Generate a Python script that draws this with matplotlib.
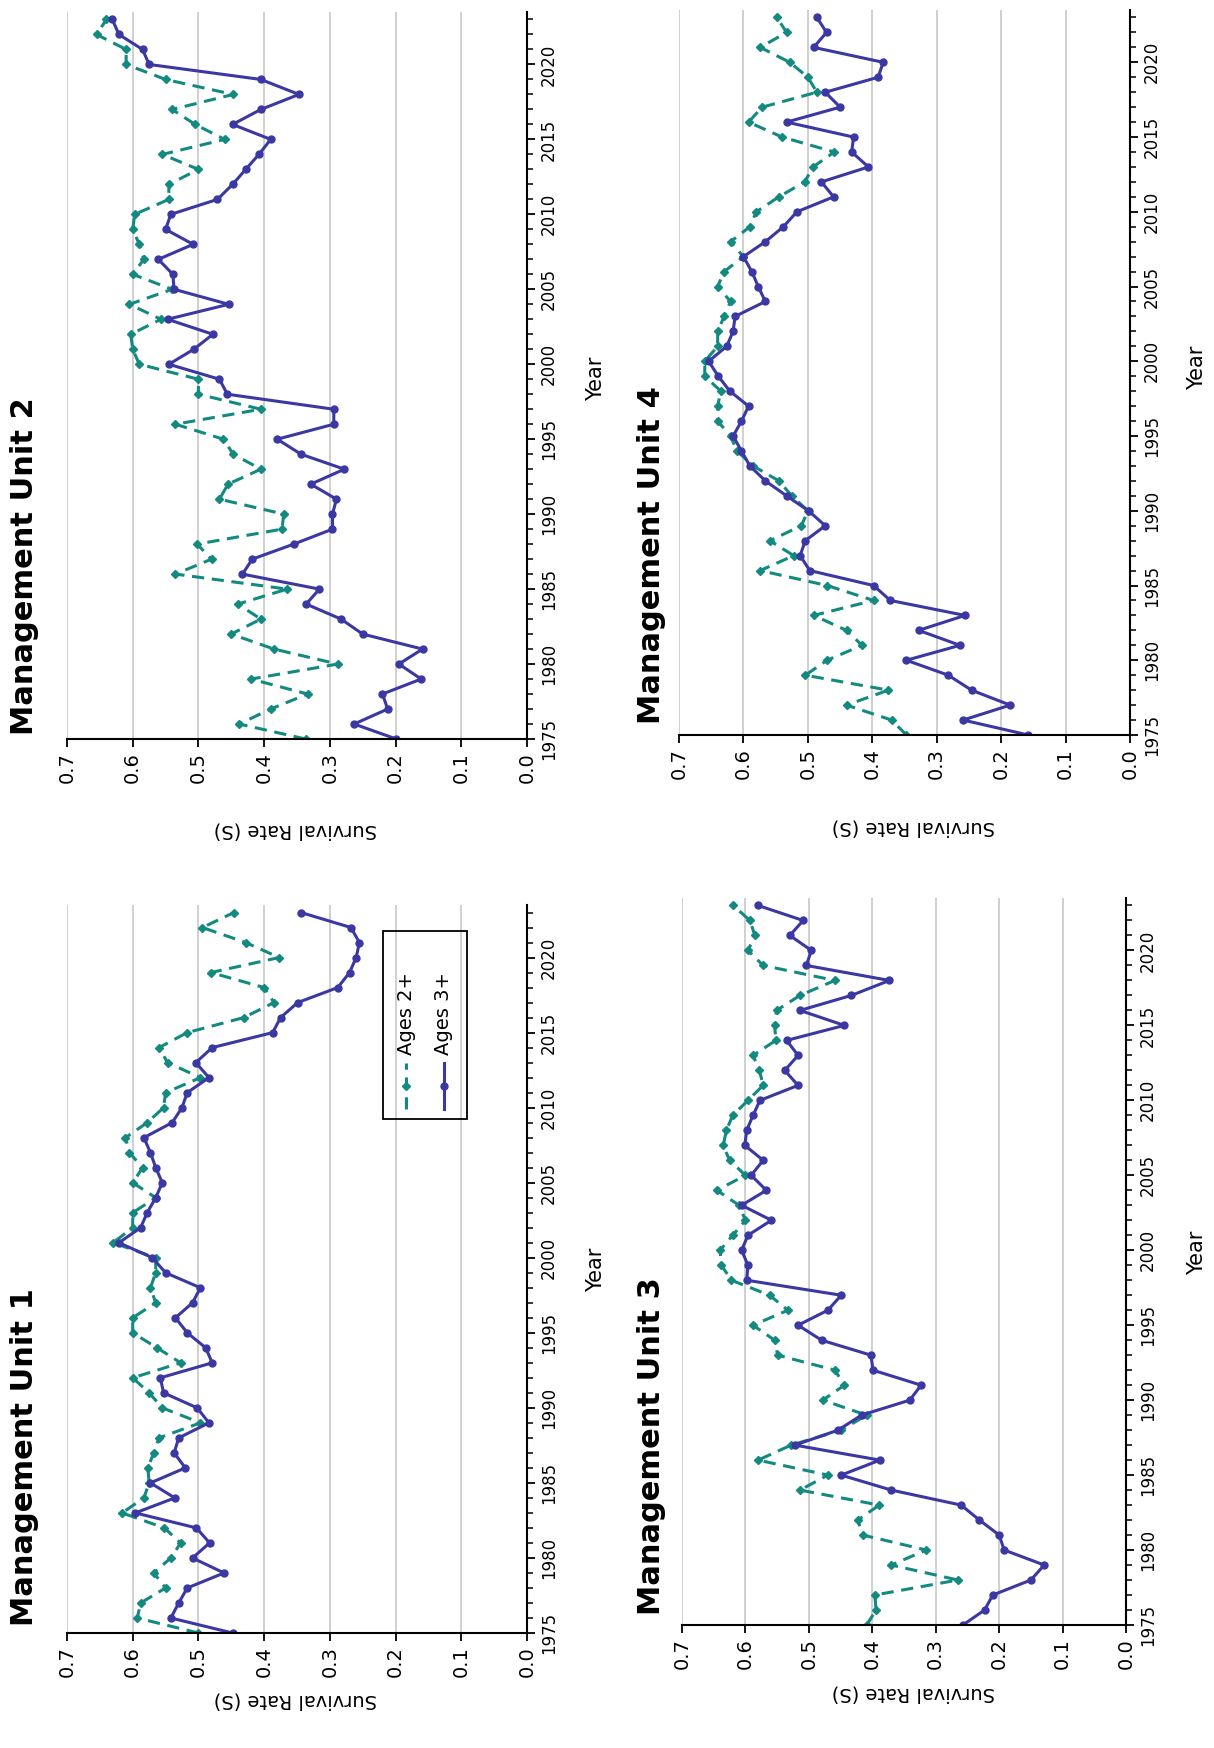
import numpy as np
import matplotlib
matplotlib.use("Agg")
import matplotlib.pyplot as plt
from matplotlib.lines import Line2D
from matplotlib.patches import Rectangle

years = list(range(1975, 2024))

mu1_age2 = [.50, .593, .588, .55, .568, .542, .527, .552, .616, .583,
            .575, .577, .568, .56, .497, .555, .575, .60, .527, .563,
            .60, .60, .565, .573, .565, .565, .63, .60, .60, .565,
            .60, .585, .605, .611, .578, .553, .55, .497, .547, .56,
            .517, .431, .385, .40, .481, .377, .428, .494, .446]
mu1_age3 = [.448, .542, .53, .517, .461, .509, .483, .503, .596, .536,
            .573, .52, .537, .53, .484, .502, .553, .558, .479, .489,
            .517, .535, .509, .497, .55, .57, .621, .588, .578, .565,
            .555, .565, .573, .583, .54, .525, .517, .484, .504, .479,
            .387, .375, .349, .288, .27, .26, .255, .268, .344]

mu2_age2 = [.337, .438, .39, .334, .42, .288, .385, .45, .405, .44,
            .365, .535, .48, .502, .373, .37, .468, .455, .405, .447,
            .462, .535, .405, .50, .50, .59, .60, .603, .557, .605,
            .54, .60, .583, .59, .60, .597, .545, .545, .50, .555,
            .46, .505, .54, .447, .55, .61, .61, .655, .64]
mu2_age3 = [.199, .263, .212, .22, .161, .195, .159, .25, .283, .336,
            .316, .433, .418, .355, .296, .296, .29, .329, .278, .344,
            .38, .294, .294, .456, .468, .545, .507, .478, .547, .454,
            .537, .539, .561, .508, .55, .542, .471, .448, .428, .408,
            .39, .448, .405, .347, .405, .575, .585, .621, .631]

mu3_age2 = [.409, .394, .396, .265, .37, .315, .415, .423, .389, .514,
            .47, .58, .528, .449, .409, .478, .444, .459, .549, .554,
            .588, .533, .562, .622, .638, .64, .62, .60, .61, .645,
            .60, .625, .635, .63, .62, .596, .572, .578, .588, .552,
            .554, .551, .514, .459, .572, .596, .585, .593, .619]
mu3_age3 = [.257, .223, .21, .15, .129, .192, .20, .231, .26, .37,
            .449, .388, .522, .454, .417, .341, .323, .399, .402, .48,
            .517, .47, .449, .598, .596, .606, .596, .559, .606, .567,
            .591, .572, .601, .598, .588, .577, .517, .538, .517, .535,
            .444, .514, .433, .373, .504, .496, .53, .509, .58]

mu4_age2 = [.347, .37, .44, .375, .504, .47, .416, .44, .491, .398,
            .47, .574, .522, .559, .51, .50, .525, .545, .585, .61,
            .62, .64, .64, .635, .66, .66, .64, .64, .63, .62,
            .64, .63, .60, .62, .59, .58, .545, .505, .492, .459,
            .54, .592, .571, .486, .50, .528, .574, .533, .548]
mu4_age3 = [.158, .259, .186, .246, .282, .347, .264, .328, .256, .372,
            .398, .497, .512, .504, .473, .499, .533, .566, .59, .603,
            .616, .603, .592, .621, .639, .654, .626, .616, .613, .566,
            .577, .587, .60, .566, .538, .517, .46, .479, .406, .432,
            .429, .533, .45, .473, .391, .383, .491, .471, .486]

titles = ["Management Unit 1", "Management Unit 2", "Management Unit 3", "Management Unit 4"]
series = [(mu1_age2, mu1_age3), (mu2_age2, mu2_age3), (mu3_age2, mu3_age3), (mu4_age2, mu4_age3)]

TEAL = "#138a80"
PURPLE = "#3b37a3"
W, H = 1214, 1748

# pixel boxes: (x at 0.7, x at 0.0, y at 1975, y at top)
boxes = [(67, 527, 1633, 905), (67, 527, 739, 12), (682, 1126, 1625, 898), (679, 1130, 735, 10)]
title_pos = [(25, 1626), (25, 735), (652, 1615), (652, 724)]
ylab_pos = [(295, 1700), (295, 830), (913, 1693), (913, 827)]
xlab_pos = [(596, 1270), (596, 379), (1197, 1253), (1197, 368)]

fig = plt.figure(figsize=(W / 100, H / 100), dpi=100)

for i in range(4):
    x0, x1, yb, yt = boxes[i]
    ax = fig.add_axes([x0 / W, 1 - yb / H, (x1 - x0) / W, (yb - yt) / H])
    a2, a3 = series[i]
    ax.plot(a2, years, color=TEAL, ls=(0, (4, 2.5)), lw=2.2, marker="D", ms=4)
    ax.plot(a3, years, color=PURPLE, ls="-", lw=2.2, marker="o", ms=5)
    ax.set_xlim(0.7, 0)
    ax.set_ylim(1975, 2023.5)
    for s in ["left", "top"]:
        ax.spines[s].set_visible(False)
    for s in ["right", "bottom"]:
        ax.spines[s].set_linewidth(1.5)
    ax.yaxis.tick_right()
    ax.set_yticks(range(1975, 2021, 5))
    ax.set_yticks(range(1975, 2024), minor=True)
    ax.set_yticklabels([str(y) for y in range(1975, 2021, 5)], rotation=90, va="center", fontsize=12)
    ax.set_xticks(np.arange(0, 0.71, 0.1))
    ax.set_xticklabels([f"{v:.1f}" for v in np.arange(0, 0.71, 0.1)], rotation=90, fontsize=14)
    ax.tick_params(direction="out", length=6, width=1.3)
    ax.tick_params(which="minor", direction="out", length=4, width=1.1)
    ax.grid(axis="x", color="#c8c8c8", lw=1.2)
    ax.set_axisbelow(True)

    tx, ty = title_pos[i]
    fig.text(tx / W, 1 - ty / H, titles[i], rotation=90, ha="center", va="bottom",
             fontsize=22, fontweight="bold")
    lx, ly = ylab_pos[i]
    fig.text(lx / W, 1 - ly / H, "Survival Rate (S)", rotation=180, ha="center", va="center", fontsize=14)
    yx, yy = xlab_pos[i]
    fig.text(yx / W, 1 - yy / H, "Year", rotation=90, ha="center", va="center", fontsize=15)

    if i == 0:
        # legend key drawn sideways to match rotated layout
        lg = fig.add_axes([382 / W, 1 - 1120 / H, 86 / W, 190 / H])
        lg.set_xlim(0, 1)
        lg.set_ylim(0, 1)
        lg.axis("off")
        lg.add_patch(Rectangle((0.01, 0.005), 0.98, 0.99, fill=False, lw=1.3, ec="black"))
        lg.add_line(Line2D([0.28, 0.28], [0.06, 0.3], color=TEAL, ls=(0, (4, 2.5)), lw=2.2))
        lg.add_line(Line2D([0.28], [0.18], color=TEAL, marker="D", ms=4))
        lg.add_line(Line2D([0.72, 0.72], [0.06, 0.3], color=PURPLE, lw=2.2))
        lg.add_line(Line2D([0.72], [0.18], color=PURPLE, marker="o", ms=5))
        lg.text(0.28, 0.34, "Ages 2+", rotation=90, ha="center", va="bottom", fontsize=14)
        lg.text(0.72, 0.34, "Ages 3+", rotation=90, ha="center", va="bottom", fontsize=14)

fig.savefig("out.png", dpi=100)
